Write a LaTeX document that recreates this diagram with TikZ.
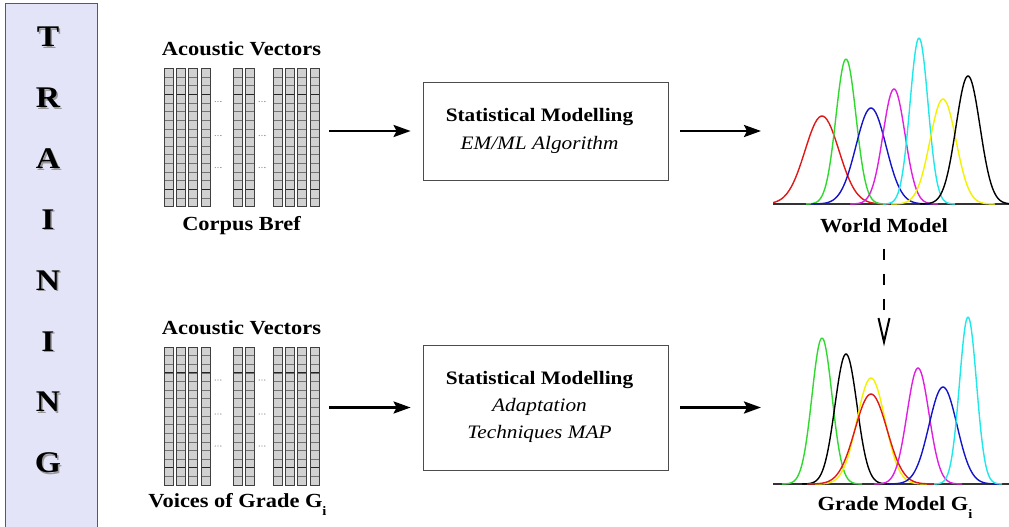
\documentclass[tikz,border=0pt]{standalone}
\usepackage{fontspec}
\setmainfont{Liberation Serif}[FakeStretch=1.12]
\usetikzlibrary{arrows.meta,calc,positioning}
\definecolor{panelbg}{HTML}{E4E4F8}
\definecolor{gred}{HTML}{E01818}
\definecolor{ggreen}{HTML}{30D830}
\definecolor{gblue}{HTML}{1414C8}
\definecolor{gmag}{HTML}{E020E0}
\definecolor{gcyan}{HTML}{20E8E8}
\definecolor{gyellow}{HTML}{F2F200}
\tikzset{arr/.style={line width=2.6pt, -{Stealth[length=17pt, width=12pt, inset=3pt]}},
  vblock/.style={inner sep=0pt, outer sep=0pt, minimum width=155pt, minimum height=138pt},
  plotarea/.style={inner sep=0pt, outer sep=0pt, minimum width=236pt, minimum height=174pt},
  mbox/.style={draw=black!70, line width=0.8pt, minimum width=245pt},
  mtxt/.style={align=center, inner sep=0pt, font=\fontsize{19}{19}\selectfont},
  lab/.style={inner sep=0pt, font=\fontsize{20}{24}\selectfont\bfseries},
  cell/.style={fill=black!18, draw=black!55, line width=0.7pt},
  curve/.style={line width=1.4pt}}

\begin{document}
\begin{tikzpicture}[x=1pt, y=-1pt]
  \useasboundingbox (0,0) rectangle (1009,527);
  % left banner
  \draw[fill=panelbg, draw=black!65, line width=1pt] (5,4) rectangle (97,532);
  \foreach \l [count=\k from 0] in {T,R,A,I,N,I,N,G}{
    \node[anchor=base, inner sep=0pt, text=black!40, font=\fontsize{30}{30}\selectfont\bfseries]
      at (49.5,48.5+60.8*\k) {\l};
    \node[anchor=base, inner sep=0pt, font=\fontsize{30}{30}\selectfont\bfseries]
      (t\k) at (48,47+60.8*\k) {\l};}

  % acoustic vector blocks
  \node[vblock] (vecA) at (241.5,137.5) {};
  \node[vblock] (vecB) at (241.5,416) {};
  \foreach \b in {vecA,vecB}{
    \foreach \dx in {0,12.4,24.8,37.2,69,81.4,109,121.4,133.8,146.2}{
      \foreach \r in {0,...,15}
        \draw[cell] ($(\b.north west)+(\dx,\r*8.625)$) rectangle ++(9,8.625);
      \draw[black!85, line width=1.1pt] ($(\b.north west)+(\dx,3*8.625)$) -- ++(9,0);
      \draw[black!85, line width=1.1pt] ($(\b.north west)+(\dx,14*8.625)$) -- ++(9,0);
      \draw[black!75, line width=1pt] (\b.north west) ++(\dx,0) rectangle ++(9,138);}
    \foreach \dx in {54,98}
      \foreach \dy in {33,67,99}
        \foreach \e in {-2.8,0,2.8}
          \fill[black!45] ($(\b.north west)+(\dx+\e,\dy)$) circle (0.7);}
  \node[lab, above=12pt of vecA] (avA) {Acoustic Vectors};
  \node[lab, below=24pt of vecA, anchor=base] (cbA) {Corpus Bref};
  \node[lab, above=12pt of vecB] (avB) {Acoustic Vectors};
  \node[lab, below=22pt of vecB, anchor=base, xshift=-4pt] (vgB)
    {Voices of Grade G\raisebox{-8pt}{\fontsize{13}{13}\selectfont i}};

  % modelling boxes
  \node[mbox, minimum height=98pt] (box1) at (545.5,131) {};
  \node[mbox, minimum height=125pt] (box2) at (545.5,407.5) {};
  \node[mtxt] (box1t) at ($(box1.center)+(-6,0)$)
    {\textbf{Statistical Modelling}\\[9pt]\textit{EM/ML Algorithm}};
  \node[mtxt] (box2t) at ($(box2.center)+(-6,-1)$)
    {\textbf{Statistical Modelling}\\[8pt]\textit{Adaptation}\\[8pt]\textit{Techniques MAP}};

  % gaussian mixtures
  \node[plotarea] (worldplot) at (891,117) {};
  \node[plotarea] (gradeplot) at (891,397) {};
  \draw[black!80, line width=1.5pt] (worldplot.south west) -- (worldplot.south east);
  \draw[black!80, line width=1.5pt] (gradeplot.south west) -- (gradeplot.south east);
  \begin{scope}
    \clip (773,0) rectangle (1009,527);
    \foreach \base/\m/\s/\h/\c in {204/822/17/88/gred, 204/846/10/145/ggreen,
        204/871/15/96/gblue, 204/894/11/115/gmag, 204/919/9/166/gcyan,
        204/943/13/105/gyellow, 204/968/12/128/black,
        484/822/10/146/ggreen, 484/846/11/130/black, 484/871/14/106/gyellow,
        484/871/16/90/gred, 484/918/11/116/gmag, 484/943/14/97/gblue,
        484/968/8.5/167/gcyan}{
      \pgfmathsetmacro\lo{\m-4*\s}
      \pgfmathsetmacro\hi{\m+4*\s}
      \draw[curve, \c] plot[domain=\lo:\hi, samples=70, smooth]
        (\x, {\base-\h*exp(-0.5*((\x-\m)/\s)^2)});}
  \end{scope}
  \node[lab, below=28pt of worldplot, anchor=base, xshift=-7pt] (wm) {World Model};
  \node[lab, below=26pt of gradeplot, anchor=base, xshift=4pt] (gm)
    {Grade Model G\raisebox{-8pt}{\fontsize{13}{13}\selectfont i}};

  % connectors
  \draw[arr] ($(vecA.east |- box1.west)+(10,0)$) -- ($(box1.west)+(-12,0)$);
  \draw[arr] ($(box1.east)+(12,0)$) -- ($(worldplot.west |- box1.east)+(-12,0)$);
  \draw[arr] ($(vecB.east |- box2.west)+(10,0)$) -- ($(box2.west)+(-12,0)$);
  \draw[arr] ($(box2.east)+(12,0)$) -- ($(gradeplot.west |- box2.east)+(-12,0)$);
  \coordinate (vtip) at ($(wm.south |- gradeplot.north)+(0,32)$);
  \draw[line width=2.4pt, dash pattern=on 11pt off 14pt]
    ($(wm.south)+(0,16)$) -- ($(vtip)+(0,-24)$);
  \draw[line width=2pt] ($(vtip)+(-5.5,-24)$) -- (vtip) -- ($(vtip)+(5.5,-24)$);
\end{tikzpicture}
\end{document}
